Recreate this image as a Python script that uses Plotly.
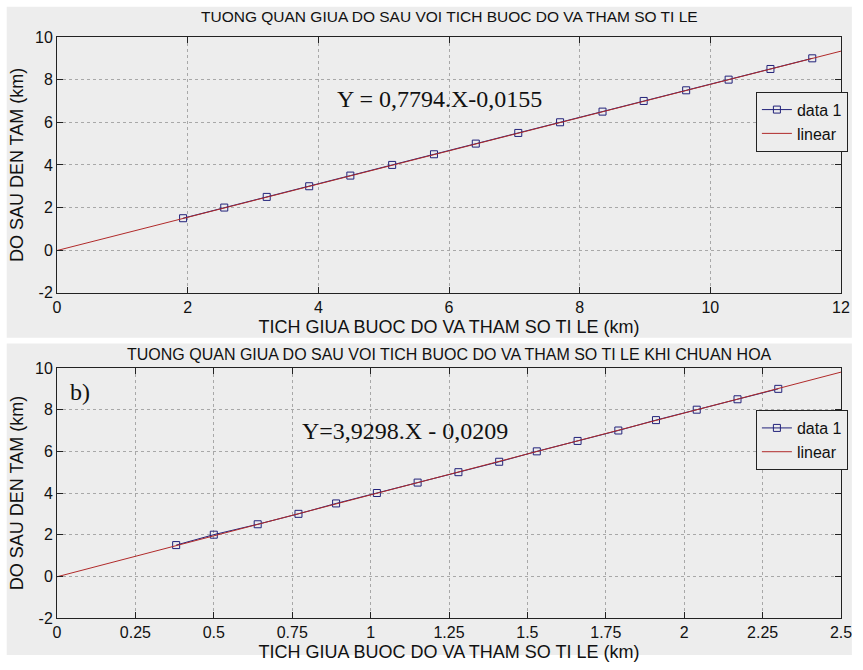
import plotly.graph_objects as go
from plotly.subplots import make_subplots

# ---- data ----
depth = [1.5, 2.0, 2.5, 3.0, 3.5, 4.0, 4.5, 5.0, 5.5, 6.0, 6.5, 7.0, 7.5, 8.0, 8.5, 9.0]
prod_a = [1.93, 2.56, 3.21, 3.86, 4.49, 5.13, 5.77, 6.41, 7.06, 7.70, 8.35, 8.98, 9.63, 10.28, 10.92, 11.56]
prod_b = [0.38, 0.50, 0.64, 0.77, 0.89, 1.02, 1.15, 1.28, 1.41, 1.53, 1.66, 1.79, 1.91, 2.04, 2.17, 2.30]
fit_a_x = [0, 12]
fit_a_y = [-0.0155, 9.3373]
fit_b_x = [0, 2.5]
fit_b_y = [-0.0209, 9.8036]

xticks_a = [0, 2, 4, 6, 8, 10, 12]
xticks_b = [0, 0.25, 0.5, 0.75, 1, 1.25, 1.5, 1.75, 2, 2.25, 2.5]
xtick_b_text = ["0", "0.25", "0.5", "0.75", "1", "1.25", "1.5", "1.75", "2", "2.25", "2.5"]
yticks = [-2, 0, 2, 4, 6, 8, 10]
ytick_text = ["-2", "0", "2", "4", "6", "8", "10"]

title_a = "TUONG QUAN GIUA DO SAU VOI TICH BUOC DO VA THAM SO TI LE"
title_b = "TUONG QUAN GIUA DO SAU VOI TICH BUOC DO VA THAM SO TI LE KHI CHUAN HOA"
xlabel = "TICH GIUA BUOC DO VA THAM SO TI LE (km)"
ylabel = "DO SAU DEN TAM (km)"

# ---- styling ----
W, H = 863, 670
L, R, T, B = 57, 11, 37, 38
GRAY = "#ededed"
NAVY = "#22227a"
RED = "#b02a2a"
SANS = "Liberation Sans, Arial, sans-serif"
SERIF = "Liberation Serif, Times New Roman, serif"

ph = H - T - B
pw = W - L - R
def py(p):
    return (H - B - p) / ph
def px(p):
    return (p - L) / pw

fig = make_subplots(rows=2, cols=1)
fig.update_layout(
    yaxis=dict(domain=[py(299), 1.0]),
    yaxis2=dict(domain=[0.0, py(376)]),
)

fig.add_trace(go.Scatter(x=prod_a, y=depth, mode="lines+markers", name="data 1",
                         line=dict(color=NAVY, width=1),
                         marker=dict(symbol="square-open", size=7, color=NAVY, line=dict(width=1)),
                         legend="legend"), row=1, col=1)
fig.add_trace(go.Scatter(x=fit_a_x, y=fit_a_y, mode="lines", name="linear",
                         line=dict(color=RED, width=1), legend="legend"), row=1, col=1)
fig.add_trace(go.Scatter(x=prod_b, y=depth, mode="lines+markers", name="data 1",
                         line=dict(color=NAVY, width=1),
                         marker=dict(symbol="square-open", size=7, color=NAVY, line=dict(width=1)),
                         legend="legend2"), row=2, col=1)
fig.add_trace(go.Scatter(x=fit_b_x, y=fit_b_y, mode="lines", name="linear",
                         line=dict(color=RED, width=1), legend="legend2"), row=2, col=1)

axis_common = dict(showline=True, linecolor="#222", linewidth=1, mirror="ticks",
                   ticks="inside", ticklen=6, tickcolor="#222",
                   showgrid=True, gridcolor="#a8a8a8", griddash="dot", gridwidth=1,
                   zeroline=False, tickfont=dict(family=SANS, size=16, color="#111"),
                   title_font=dict(family=SANS, size=18, color="#111"))

fig.update_xaxes(**axis_common)
fig.update_yaxes(**axis_common)
fig.update_xaxes(range=[0, 12], tickvals=xticks_a, ticktext=[str(v) for v in xticks_a],
                 title_text=xlabel, title_standoff=5, row=1, col=1)
fig.update_xaxes(range=[0, 2.5], tickvals=xticks_b, ticktext=xtick_b_text,
                 title_text=xlabel, title_standoff=5, row=2, col=1)
fig.update_yaxes(range=[-2, 10], tickvals=yticks, ticktext=ytick_text,
                 title_text=ylabel, title_standoff=6, row=1, col=1)
fig.update_yaxes(range=[-2, 10], tickvals=yticks, ticktext=ytick_text,
                 title_text=ylabel, title_standoff=6, row=2, col=1)

shapes = [
    dict(type="rect", xref="paper", yref="paper", x0=px(6), x1=px(W), y0=py(345), y1=py(6),
         fillcolor=GRAY, line=dict(width=0), layer="below"),
    dict(type="rect", xref="paper", yref="paper", x0=px(6), x1=px(W), y0=py(H), y1=py(351),
         fillcolor=GRAY, line=dict(width=0), layer="below"),
]

annotations = [
    dict(text=title_a, xref="paper", yref="paper", x=0.5, y=py(16), showarrow=False,
         font=dict(family=SANS, size=15.5, color="#111"), xanchor="center", yanchor="middle"),
    dict(text=title_b, xref="paper", yref="paper", x=0.5, y=py(362), showarrow=False,
         font=dict(family=SANS, size=16, color="#111"), xanchor="center", yanchor="middle"),
    dict(text="Y = 0,7794.X-0,0155", xref="x", yref="y", x=5.86, y=7.1, showarrow=False,
         font=dict(family=SERIF, size=24, color="#111")),
    dict(text="Y=3,9298.X - 0,0209", xref="x2", yref="y2", x=1.11, y=7.0, showarrow=False,
         font=dict(family=SERIF, size=24, color="#111")),
    dict(text="b)", xref="x2", yref="y2", x=0.072, y=8.85, showarrow=False,
         font=dict(family=SERIF, size=24, color="#111")),
]

legend_common = dict(bgcolor=GRAY, bordercolor="#222", borderwidth=1,
                     font=dict(family=SANS, size=16, color="#111"),
                     xanchor="right", yanchor="top", itemwidth=30, tracegroupgap=0)

fig.update_layout(
    width=W, height=H,
    margin=dict(l=L, r=R, t=T, b=B),
    paper_bgcolor="white", plot_bgcolor=GRAY,
    shapes=shapes, annotations=annotations,
    showlegend=True,
    legend=dict(x=1.0 + 7 / pw, y=py(93), **legend_common),
    legend2=dict(x=1.0 + 7 / pw, y=py(419), **legend_common),
)

fig.write_html("out.html")
